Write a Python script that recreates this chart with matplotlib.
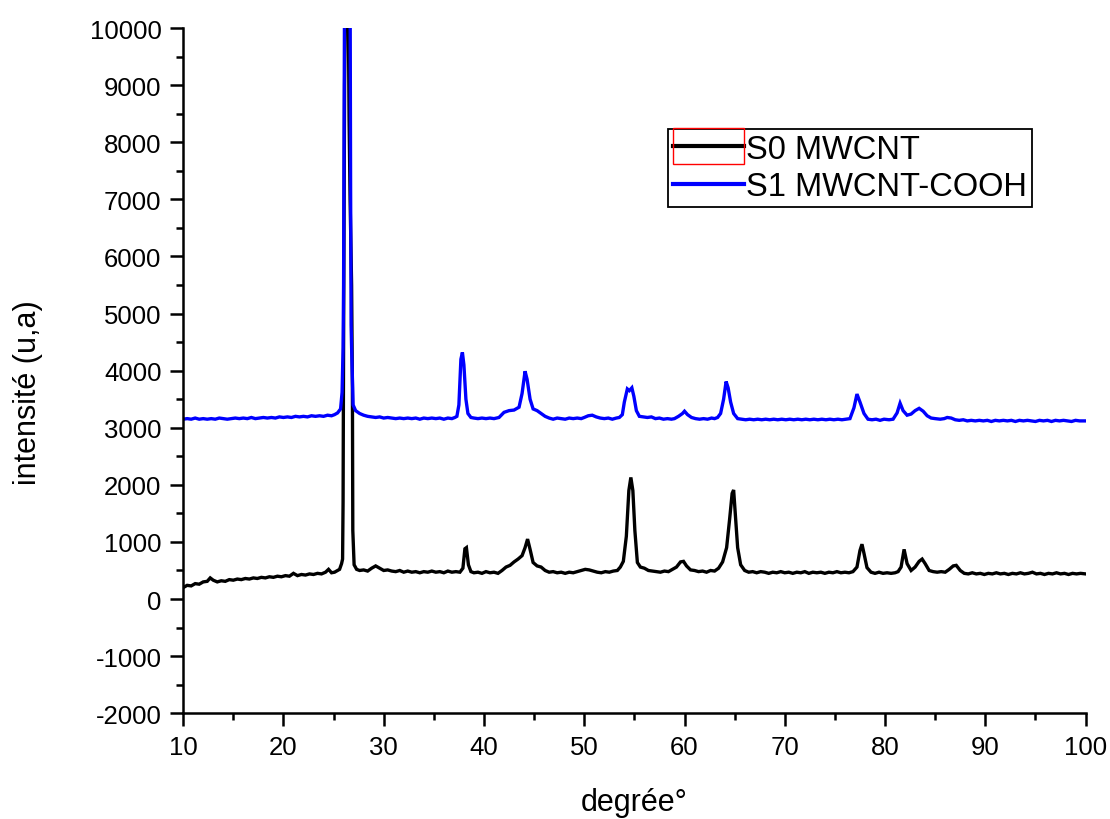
import numpy as np
import matplotlib
matplotlib.use("Agg")
import matplotlib.pyplot as plt
from matplotlib.patches import Rectangle
from matplotlib.ticker import MultipleLocator

plt.rcParams['font.family'] = ['Liberation Sans', 'DejaVu Sans']
plt.rcParams['axes.unicode_minus'] = False

# XRD pattern: (2theta, intensity)
S0_POINTS = [
    (10.0, 200), (10.4, 240), (10.8, 230), (11.2, 270), (11.6, 260), (12.0, 300),
    (12.4, 310), (12.7, 370), (13.0, 330), (13.4, 300), (13.8, 320), (14.2, 310),
    (14.6, 340), (15.0, 330), (15.4, 350), (15.8, 340), (16.2, 360), (16.6, 350),
    (17.0, 370), (17.4, 360), (17.8, 380), (18.2, 370), (18.6, 390), (19.0, 380),
    (19.4, 400), (19.8, 390), (20.2, 410), (20.6, 400), (21.0, 450), (21.4, 410),
    (21.8, 430), (22.2, 420), (22.6, 440), (23.0, 430), (23.4, 450), (23.8, 440),
    (24.2, 470), (24.5, 520), (24.8, 460), (25.1, 470), (25.4, 500), (25.6, 520),
    (25.8, 620), (25.9, 700), (25.95, 1700), (26.0, 4500), (26.1, 9000),
    (26.2, 10800), (26.45, 10800), (26.55, 8400), (26.65, 7000), (26.8, 5500),
    (26.88, 3700), (26.92, 1200), (27.05, 600), (27.3, 520), (27.6, 500),
    (28.0, 510), (28.4, 490), (28.8, 540), (29.2, 580), (29.6, 540), (30.0, 500),
    (30.4, 510), (30.8, 490), (31.2, 480), (31.6, 500), (32.0, 470), (32.4, 490),
    (32.8, 470), (33.2, 480), (33.6, 460), (34.0, 480), (34.4, 470), (34.8, 490),
    (35.2, 470), (35.6, 480), (36.0, 460), (36.4, 490), (36.8, 470), (37.2, 480),
    (37.6, 470), (37.9, 540), (38.1, 880), (38.25, 900), (38.45, 600), (38.7, 480),
    (39.0, 460), (39.4, 470), (39.8, 450), (40.2, 480), (40.6, 460), (41.0, 470),
    (41.4, 450), (41.8, 500), (42.2, 560), (42.6, 590), (43.0, 650), (43.4, 700),
    (43.8, 760), (44.1, 900), (44.35, 1050), (44.6, 870), (44.9, 640), (45.3, 580),
    (45.7, 560), (46.1, 500), (46.5, 470), (46.9, 480), (47.3, 460), (47.7, 470),
    (48.1, 450), (48.5, 470), (48.9, 460), (49.3, 480), (49.7, 500), (50.1, 520),
    (50.5, 510), (50.9, 490), (51.3, 470), (51.7, 460), (52.1, 480), (52.5, 470),
    (52.9, 490), (53.3, 500), (53.6, 560), (53.9, 660), (54.2, 1100), (54.45, 1900),
    (54.65, 2130), (54.85, 1900), (55.05, 1200), (55.3, 640), (55.6, 560),
    (56.0, 540), (56.4, 500), (56.8, 490), (57.2, 480), (57.6, 470), (58.0, 490),
    (58.4, 480), (58.8, 520), (59.2, 560), (59.6, 650), (59.9, 660), (60.2, 580),
    (60.6, 510), (61.0, 500), (61.4, 480), (61.8, 490), (62.2, 470), (62.6, 500),
    (63.0, 490), (63.4, 540), (63.8, 650), (64.2, 900), (64.5, 1400), (64.75, 1850),
    (64.9, 1910), (65.1, 1400), (65.3, 900), (65.6, 600), (66.0, 500), (66.4, 470),
    (66.8, 480), (67.2, 460), (67.6, 480), (68.0, 470), (68.4, 450), (68.8, 470),
    (69.2, 460), (69.6, 480), (70.0, 460), (70.4, 470), (70.8, 450), (71.2, 470),
    (71.6, 460), (72.0, 480), (72.4, 450), (72.8, 470), (73.2, 460), (73.6, 470),
    (74.0, 450), (74.4, 470), (74.8, 460), (75.2, 480), (75.6, 460), (76.0, 470),
    (76.4, 460), (76.8, 480), (77.2, 560), (77.5, 850), (77.7, 960), (77.9, 800),
    (78.2, 550), (78.6, 470), (79.0, 450), (79.4, 470), (79.8, 450), (80.2, 460),
    (80.6, 450), (81.0, 460), (81.3, 480), (81.6, 560), (81.9, 870), (82.2, 620),
    (82.6, 500), (83.0, 560), (83.4, 660), (83.7, 700), (84.0, 620), (84.4, 500),
    (84.8, 480), (85.2, 470), (85.6, 480), (86.0, 470), (86.4, 520), (86.8, 580),
    (87.1, 590), (87.5, 500), (87.9, 450), (88.3, 440), (88.7, 460), (89.1, 440),
    (89.5, 450), (89.9, 430), (90.3, 450), (90.7, 440), (91.1, 460), (91.5, 440),
    (91.9, 450), (92.3, 430), (92.7, 450), (93.1, 440), (93.5, 460), (93.9, 440),
    (94.3, 450), (94.7, 470), (95.1, 440), (95.5, 450), (95.9, 430), (96.3, 450),
    (96.7, 440), (97.1, 460), (97.5, 440), (97.9, 450), (98.3, 430), (98.7, 450),
    (99.1, 440), (99.5, 450), (100.0, 440),
]

S1_POINTS = [
    (10.0, 3150), (10.4, 3160), (10.8, 3150), (11.2, 3170), (11.6, 3150),
    (12.0, 3160), (12.4, 3150), (12.8, 3160), (13.2, 3150), (13.6, 3170),
    (14.0, 3160), (14.4, 3150), (14.8, 3160), (15.2, 3170), (15.6, 3160),
    (16.0, 3170), (16.4, 3160), (16.8, 3180), (17.2, 3160), (17.6, 3170),
    (18.0, 3180), (18.4, 3170), (18.8, 3180), (19.2, 3170), (19.6, 3190),
    (20.0, 3180), (20.4, 3190), (20.8, 3180), (21.2, 3200), (21.6, 3190),
    (22.0, 3200), (22.4, 3190), (22.8, 3210), (23.2, 3200), (23.6, 3210),
    (24.0, 3200), (24.4, 3220), (24.8, 3210), (25.1, 3230), (25.4, 3260),
    (25.7, 3330), (25.85, 3620), (25.95, 4400), (26.0, 5500), (26.1, 10800),
    (26.65, 10800), (26.7, 7200), (26.75, 4800), (26.8, 4400), (26.95, 3400),
    (27.2, 3300), (27.6, 3250), (28.0, 3220), (28.4, 3200), (28.8, 3190),
    (29.2, 3180), (29.6, 3190), (30.0, 3170), (30.4, 3180), (30.8, 3170),
    (31.2, 3160), (31.6, 3170), (32.0, 3160), (32.4, 3170), (32.8, 3160),
    (33.2, 3170), (33.6, 3150), (34.0, 3170), (34.4, 3160), (34.8, 3170),
    (35.2, 3160), (35.6, 3170), (36.0, 3150), (36.4, 3170), (36.8, 3160),
    (37.1, 3180), (37.3, 3200), (37.5, 3400), (37.7, 4200), (37.85, 4320),
    (38.0, 4100), (38.2, 3500), (38.4, 3250), (38.7, 3180), (39.0, 3170),
    (39.4, 3160), (39.8, 3170), (40.2, 3160), (40.6, 3170), (41.0, 3160),
    (41.5, 3180), (42.0, 3270), (42.5, 3300), (43.0, 3310), (43.5, 3360),
    (43.8, 3600), (44.1, 3990), (44.3, 3850), (44.6, 3500), (44.9, 3330),
    (45.3, 3300), (45.7, 3250), (46.1, 3200), (46.5, 3170), (46.9, 3150),
    (47.3, 3170), (47.7, 3160), (48.1, 3150), (48.5, 3170), (48.9, 3160),
    (49.3, 3170), (49.7, 3160), (50.0, 3180), (50.4, 3210), (50.8, 3220),
    (51.2, 3190), (51.6, 3170), (52.0, 3160), (52.4, 3170), (52.8, 3150),
    (53.2, 3170), (53.5, 3180), (53.8, 3230), (54.0, 3450), (54.3, 3680),
    (54.5, 3650), (54.75, 3700), (54.95, 3550), (55.2, 3300), (55.5, 3200),
    (55.9, 3190), (56.3, 3180), (56.7, 3190), (57.1, 3160), (57.5, 3170),
    (57.9, 3150), (58.3, 3160), (58.7, 3150), (59.0, 3160), (59.4, 3200),
    (59.8, 3250), (60.0, 3290), (60.3, 3230), (60.7, 3180), (61.1, 3160),
    (61.5, 3150), (61.9, 3160), (62.3, 3150), (62.7, 3170), (63.0, 3160),
    (63.3, 3180), (63.6, 3250), (63.9, 3500), (64.15, 3810), (64.35, 3700),
    (64.6, 3450), (64.9, 3250), (65.3, 3160), (65.7, 3150), (66.1, 3140),
    (66.5, 3150), (66.9, 3140), (67.3, 3150), (67.7, 3140), (68.1, 3150),
    (68.5, 3140), (68.9, 3150), (69.3, 3140), (69.7, 3150), (70.1, 3140),
    (70.5, 3150), (70.9, 3140), (71.3, 3150), (71.7, 3140), (72.1, 3150),
    (72.5, 3140), (72.9, 3150), (73.3, 3140), (73.7, 3150), (74.1, 3140),
    (74.5, 3150), (74.9, 3140), (75.3, 3150), (75.7, 3140), (76.1, 3150),
    (76.5, 3160), (76.9, 3350), (77.2, 3590), (77.5, 3450), (77.9, 3250),
    (78.3, 3150), (78.7, 3140), (79.1, 3150), (79.5, 3130), (79.9, 3150),
    (80.4, 3140), (80.8, 3150), (81.2, 3260), (81.5, 3430), (81.8, 3300),
    (82.2, 3220), (82.6, 3240), (83.0, 3300), (83.4, 3340), (83.8, 3290),
    (84.2, 3210), (84.6, 3170), (85.0, 3160), (85.5, 3150), (85.9, 3160),
    (86.2, 3180), (86.6, 3170), (87.0, 3140), (87.4, 3130), (87.8, 3140),
    (88.2, 3120), (88.6, 3130), (89.0, 3120), (89.4, 3130), (89.8, 3120),
    (90.2, 3130), (90.6, 3110), (91.0, 3130), (91.4, 3120), (91.8, 3130),
    (92.2, 3120), (92.6, 3130), (93.0, 3110), (93.4, 3130), (93.8, 3120),
    (94.2, 3130), (94.6, 3120), (95.0, 3110), (95.4, 3130), (95.8, 3120),
    (96.2, 3130), (96.6, 3110), (97.0, 3130), (97.4, 3120), (97.8, 3130),
    (98.2, 3120), (98.6, 3110), (99.0, 3130), (99.4, 3120), (100.0, 3120),
]

LABELS = ["S0 MWCNT", "S1 MWCNT-COOH"]
COLOURS = ["black", "#0000ff"]

fig = plt.figure(figsize=(11.1, 8.2), dpi=100)
ax = fig.add_axes([0.165, 0.129, 0.813, 0.8355])

for pts, lab, col in zip([S0_POINTS, S1_POINTS], LABELS, COLOURS):
    xs, ys = np.array(pts, dtype=float).T
    ax.plot(xs, ys, color=col, lw=2.4, label=lab, solid_joinstyle='miter')

ax.set_xlim(10, 100)
ax.set_ylim(-2000, 10000)
ax.xaxis.set_major_locator(MultipleLocator(10))
ax.xaxis.set_minor_locator(MultipleLocator(5))
ax.yaxis.set_major_locator(MultipleLocator(1000))
ax.yaxis.set_minor_locator(MultipleLocator(500))

for side in ['top', 'right']:
    ax.spines[side].set_visible(False)
for side in ['left', 'bottom']:
    ax.spines[side].set_linewidth(1.8)

ax.tick_params(which='major', direction='out', length=9.5, width=1.8,
               labelsize=18.5, pad=6)
ax.tick_params(which='minor', direction='out', length=5, width=1.8)

ax.set_xlabel("degrée°", fontsize=22)
ax.set_ylabel("intensité (u,a)", fontsize=22)
ax.xaxis.set_label_coords(0.5, -0.108)
ax.yaxis.set_label_coords(-0.155, 0.47)

leg = ax.legend(loc='upper left', bbox_to_anchor=(0.537, 0.853), fontsize=23.5,
                fancybox=False, edgecolor='black', framealpha=1,
                handlelength=2.2, handletextpad=0.05, borderpad=0.15,
                labelspacing=0.2, borderaxespad=0)
leg.get_frame().set_linewidth(1.3)
for h in leg.legend_handles:
    h.set_linewidth(3)

# red selection box round the first legend handle
fig.canvas.draw()
bb = leg.legend_handles[0].get_window_extent().transformed(fig.transFigure.inverted())
pad_y = 18 / 820
fig.patches.append(Rectangle((bb.x0, bb.y0 - pad_y), bb.width, 2 * pad_y,
                             transform=fig.transFigure, fill=False,
                             edgecolor='red', lw=1.0))

fig.savefig("out.png", dpi=100)
